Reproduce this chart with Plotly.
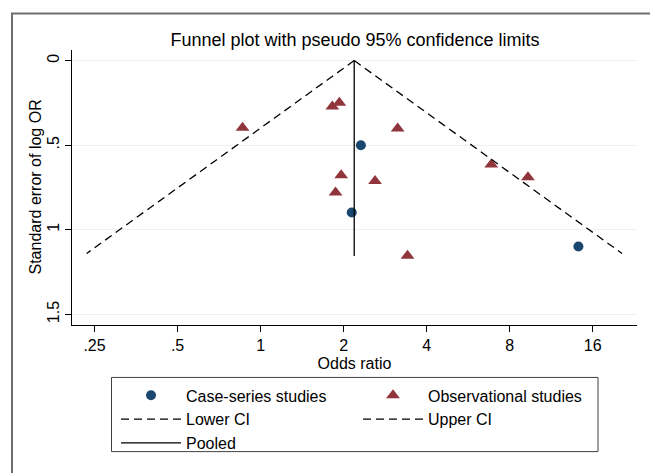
import plotly.graph_objects as go

# ---- data ----
case_or = [2.31, 2.14, 14.2]
case_se = [0.500, 0.898, 1.099]

obs_or = [0.86, 1.82, 1.93, 3.14, 1.96, 2.60, 1.87, 3.41, 6.86, 9.32]
obs_se = [0.397, 0.272, 0.249, 0.401, 0.678, 0.711, 0.779, 1.153, 0.614, 0.690]

pooled_or = [2.185, 2.185]
pooled_se = [0.0, 1.155]

lower_ci_or = [2.185, 0.234]
upper_ci_or = [2.185, 20.45]
ci_se = [0.0, 1.14]

x_tickvals = [0.25, 0.5, 1, 2, 4, 8, 16]
x_ticktext = [".25", ".5", "1", "2", "4", "8", "16"]
y_tickvals = [0, 0.5, 1, 1.5]
y_ticktext = ["0", ".5", "1", "1.5"]

FONT = "Liberation Sans, Arial, sans-serif"
NAVY = "#1a476f"
MAROON = "#90353b"
DASH = "8px,5px"

fig = go.Figure()
fig.add_trace(go.Scatter(x=case_or, y=case_se, mode="markers", name="Case-series studies",
                         marker=dict(symbol="circle", size=10, color=NAVY)))
fig.add_trace(go.Scatter(x=obs_or, y=obs_se, mode="markers", name="Observational studies",
                         marker=dict(symbol="triangle-up", size=12, color=MAROON)))
fig.add_trace(go.Scatter(x=lower_ci_or, y=ci_se, mode="lines", name="Lower CI",
                         line=dict(color="black", width=1.3, dash=DASH)))
fig.add_trace(go.Scatter(x=upper_ci_or, y=ci_se, mode="lines", name="Upper CI",
                         line=dict(color="black", width=1.3, dash=DASH)))
fig.add_trace(go.Scatter(x=pooled_or, y=pooled_se, mode="lines", name="Pooled",
                         line=dict(color="black", width=1.3)))

# page offset from the default body margin
OFF = 8
W, H = 650, 465
L, R, T, B = 64, 21, 42, 145
pw, ph = W - L - R, H - T - B


def px_x(p):
    return (p - OFF - L) / pw


def px_y(p):
    return (H - B - (p - OFF)) / ph


fig.update_layout(
    width=W, height=H,
    margin=dict(l=L, r=R, t=T, b=B),
    paper_bgcolor="white", plot_bgcolor="white",
    font=dict(family=FONT, size=16, color="black"),
    title=dict(text="Funnel plot with pseudo 95% confidence limits",
               x=(355 - OFF) / W, xanchor="center", y=1 - (40 - OFF) / H, yanchor="middle",
               font=dict(size=18, family=FONT, color="black")),
    xaxis=dict(type="log", range=[-0.6838, 1.3648],
               tickvals=x_tickvals, ticktext=x_ticktext,
               showgrid=False, zeroline=False,
               showline=True, linecolor="black", linewidth=1,
               ticks="outside", ticklen=6, tickcolor="black",
               tickfont=dict(size=16),
               title=dict(text="Odds ratio", standoff=4, font=dict(size=16))),
    yaxis=dict(range=[1.5626, -0.0625],
               tickvals=y_tickvals, ticktext=y_ticktext, tickangle=-90,
               showgrid=True, gridcolor="#eaf2f3", gridwidth=1,
               zeroline=False,
               showline=True, linecolor="black", linewidth=1,
               ticks="outside", ticklen=6, tickcolor="black",
               tickfont=dict(size=16)),
    legend=dict(orientation="h", x=px_x(116), y=px_y(382), xanchor="left", yanchor="top",
                bgcolor="rgba(0,0,0,0)", borderwidth=0,
                itemwidth=60, entrywidth=167, font=dict(size=16), tracegroupgap=0),
    annotations=[dict(text="Standard error of log OR", textangle=-90,
                      xref="paper", yref="paper", x=px_x(35), y=px_y(189),
                      xanchor="center", yanchor="middle", showarrow=False,
                      font=dict(size=16))],
    shapes=[
        dict(type="rect", xref="paper", yref="paper",
             x0=px_x(12), x1=px_x(652), y0=px_y(490), y1=px_y(13),
             line=dict(color="#6e6e6e", width=2), fillcolor="rgba(0,0,0,0)",
             layer="below"),
        dict(type="rect", xref="paper", yref="paper",
             x0=px_x(111.5), x1=px_x(598), y0=px_y(456), y1=px_y(381),
             line=dict(color="#404040", width=1), fillcolor="rgba(0,0,0,0)",
             layer="above"),
    ],
)

fig.write_html("out.html")
